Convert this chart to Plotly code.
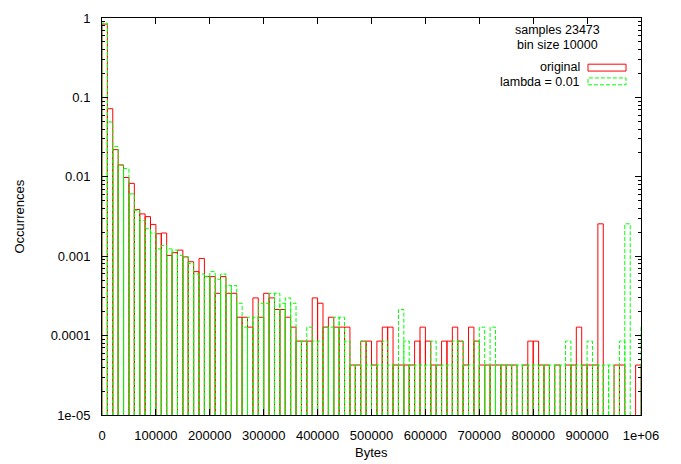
import plotly.graph_objects as go

BIN = 10000
SAMPLES = 23473

# histogram counts per 10000-byte bin (bin i covers [i*BIN, (i+1)*BIN))
original_counts = [
    19678, 1690, 516, 331, 230, 194, 91, 80, 74, 59,
    45, 46, 24, 26, 28, 23, 20, 15, 22, 13,
    13, 8, 13, 8, 8, 4, 4, 3, 7, 4,
    8, 7, 5, 5, 4, 3, 2, 2, 2, 7,
    6, 3, 4, 3, 3, 3, 1, 1, 2, 2,
    1, 2, 3, 3, 1, 1, 1, 1, 2, 3,
    2, 1, 1, 2, 2, 3, 2, 1, 3, 2,
    1, 1, 1, 1, 1, 1, 1, 0, 1, 2,
    2, 1, 1, 0, 1, 0, 1, 1, 3, 1,
    1, 1, 60, 0, 0, 1, 1, 0, 0, 1,
]
lambda_counts = [
    20233, 1150, 563, 325, 298, 143, 89, 66, 52, 46,
    29, 32, 29, 28, 24, 23, 19, 14, 14, 13,
    15, 12, 14, 10, 10, 6, 3, 4, 4, 6,
    6, 8, 8, 6, 7, 6, 2, 2, 3, 2,
    2, 3, 3, 4, 4, 2, 1, 1, 2, 1,
    1, 1, 2, 1, 1, 5, 2, 1, 1, 1,
    1, 2, 1, 1, 1, 2, 2, 1, 1, 2,
    3, 1, 3, 1, 1, 1, 1, 1, 1, 1,
    1, 1, 1, 1, 1, 1, 2, 1, 1, 1,
    2, 1, 1, 1, 1, 0, 2, 60, 0, 0,
    3,
]

x_tick_vals = [0, 100000, 200000, 300000, 400000, 500000, 600000, 700000, 800000, 900000, 1000000]
x_tick_text = ["0", "100000", "200000", "300000", "400000", "500000", "600000", "700000", "800000", "900000", "1e+06"]
y_tick_vals = [1e-5, 1e-4, 1e-3, 1e-2, 1e-1, 1]
y_tick_text = ["1e-05", "0.0001", "0.001", "0.01", "0.1", "1"]

Y_MIN = 1e-5
X_MAX = 1e6

def outline(counts):
    xs, ys = [], []
    for i, c in enumerate(counts):
        if c <= 0:
            continue
        v = c / SAMPLES
        x0, x1 = i * BIN, (i + 1) * BIN
        xs += [x0, x0, x1, x1, None]
        ys += [Y_MIN, v, v, Y_MIN, None]
    return xs, ys

fig = go.Figure()
xr, yr = outline(original_counts)
fig.add_trace(go.Scatter(x=xr, y=yr, mode="lines", name="original",
                         line=dict(color="#ff0000", width=1), hoverinfo="skip"))
xg, yg = outline(lambda_counts)
fig.add_trace(go.Scatter(x=xg, y=yg, mode="lines", name="lambda = 0.01",
                         line=dict(color="#00ff00", width=1, dash="4px,2px"), hoverinfo="skip"))

W, H = 681, 464
L, R, T, B = 102, 641, 11, 415
PW, PH = R - L, B - T

def px(x):
    return (x - L) / PW

def py(y):
    return (B - y) / PH

font = dict(family="Liberation Sans, Arial, sans-serif", size=13, color="black")
kfont = dict(family="Liberation Sans, Arial, sans-serif", size=12.5, color="black")

def note(text, x, y, anchor="center", **kw):
    return dict(text=text, x=px(x), y=py(y), xref="paper", yref="paper",
                showarrow=False, xanchor=anchor, yanchor="middle", borderpad=0, **kw)

annotations = [
    note("samples 23473", 557, 23, font=kfont),
    note("bin size 10000", 557, 38, font=kfont),
    note("original", 581, 61, "right", font=kfont),
    note("lambda = 0.01", 581, 76, "right", font=kfont),
    note("Occurrences", 19, 213, textangle=-90, font=font),
    note("Bytes", 371, 453, font=font),
]

shapes = [
    dict(type="rect", xref="paper", yref="paper", x0=px(588), x1=px(626), y0=py(65), y1=py(58),
         line=dict(color="#ff0000", width=1)),
    dict(type="rect", xref="paper", yref="paper", x0=px(588), x1=px(626), y0=py(79), y1=py(72),
         line=dict(color="#00ff00", width=1, dash="4px,2px")),
]

minor_y = [m * 10 ** k for k in range(-5, 0) for m in range(2, 10)]

fig.update_layout(
    width=W, height=H, autosize=False,
    margin=dict(l=L, r=W - R, t=T, b=H - B, pad=0),
    plot_bgcolor="white", paper_bgcolor="white",
    showlegend=False, font=font,
    annotations=annotations, shapes=shapes,
)
fig.update_xaxes(
    range=[0, X_MAX], tickmode="array", tickvals=x_tick_vals, ticktext=x_tick_text,
    ticks="inside", ticklen=6, tickcolor="black", tickwidth=1,
    showline=True, linecolor="black", linewidth=1, mirror="ticks",
    showgrid=False, zeroline=False, ticklabelstandoff=8, tickfont=font,
)
fig.update_yaxes(
    type="log", range=[-5, 0], tickmode="array", tickvals=y_tick_vals, ticktext=y_tick_text,
    ticks="inside", ticklen=6, tickcolor="black", tickwidth=1,
    minor=dict(tickmode="array", tickvals=minor_y, ticks="inside", ticklen=3, tickcolor="black", showgrid=False),
    showline=True, linecolor="black", linewidth=1, mirror="ticks",
    showgrid=False, zeroline=False, ticklabelstandoff=8, tickfont=font,
)

fig.write_html("out.html")
